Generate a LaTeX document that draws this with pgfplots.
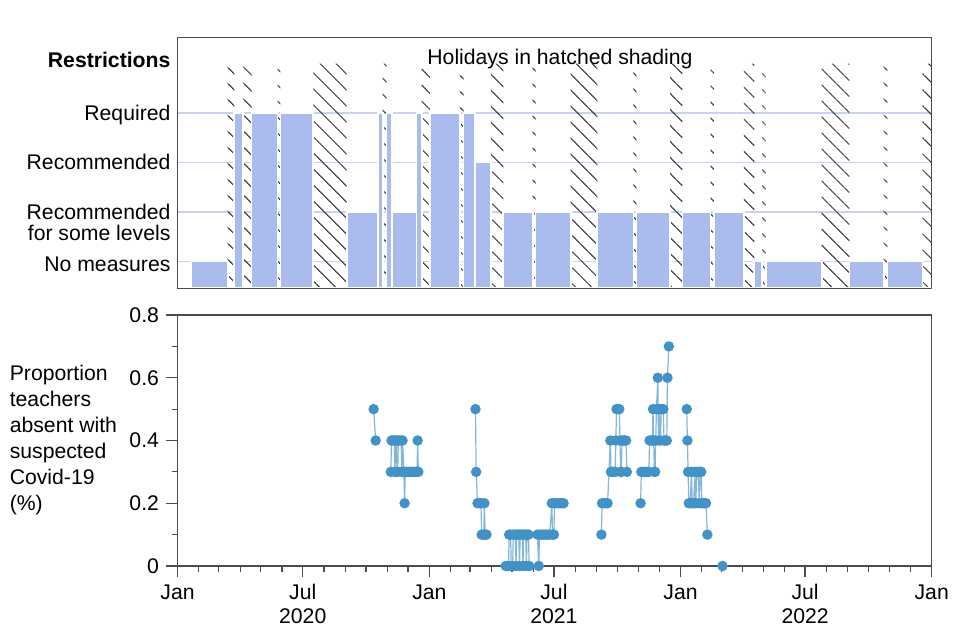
\documentclass[border=0pt]{standalone}
\usepackage{fontspec}
\setmainfont{Liberation Sans}
\usepackage{pgfplots}
\pgfplotsset{compat=1.18}
\usetikzlibrary{patterns.meta}
\definecolor{barblue}{RGB}{170,187,238}
\definecolor{gridblue}{RGB}{200,210,246}
\definecolor{dotblue}{RGB}{66,146,198}
\definecolor{lineblue}{RGB}{130,182,220}
\newcommand\myfont{\fontsize{10.6}{13}\selectfont}
\begin{document}
\begin{tikzpicture}[font=\myfont]
\useasboundingbox (0,0) rectangle (480pt,320pt);
% ---------------- top panel ----------------
\begin{axis}[
  at={(88.75pt,175.85pt)}, anchor=south west, scale only axis,
  width=377.1pt, height=125.5pt,
  xmin=0, xmax=1096, ymin=0.46, ymax=5.53,
  xtick=\empty,
  ytick={1,2,3,4},
  yticklabels={\raisebox{-1.5pt}{No measures},{\begin{tabular}[t]{@{}r@{}}Recommended\\[-2.6pt]for some levels\hspace{5.5pt}\end{tabular}},Recommended,Required},
  extra y ticks={5.06}, extra y tick labels={\textbf{Restrictions}\hspace{2pt}},
  extra y tick style={grid=none},
  ymajorgrids, grid style={gridblue, line width=0.7pt},
  tick style={draw=none},
  y tick label style={anchor=mid east, yshift=-1pt, font=\myfont},
  axis line style={black!70, line width=0.6pt},
]
% holidays (hatched)
\addplot[ybar interval, draw=none, pattern={Lines[angle=-45,distance=5.66pt,line width=0.5pt]}, pattern color=black!80] coordinates {
(20,0)(73,5)(82.5,0)(95.6,5)(107.8,0)(145.6,5)(149.4,0)(197.3,5)(245.9,0)(298.2,5)(304,0)
(354.9,5)(366.9,0)(410.5,5)(415.9,0)(455.6,5)(473.4,0)(516.2,5)(520.5,0)(571.4,5)(610,0)
(662.4,5)(667.3,0)(715.7,5)(733.8,0)(774.8,5)(779.6,0)(823.2,5)(838.2,0)(849.8,5)(854.8,0)
(936.2,5)(976.3,0)(1026.3,5)(1031.5,0)(1082.9,5)(1096,0)
};
% restriction levels
\addplot[ybar interval, fill=barblue, draw=white, line width=0.8pt] coordinates {
(20,1)(73,0)(82.5,4)(95.6,0)(107.8,4)(145.6,0)(149.4,4)(197.3,0)(245.9,2)(291.8,4)(298.2,0)
(304,4)(311.3,2)(347.6,4)(354.9,0)(366.9,4)(410.5,0)(415.9,4)(432.3,3)(455.6,0)(473.4,2)
(516.2,0)(520.5,2)(571.4,0)(610,2)(662.4,0)(667.3,2)(715.7,0)(733.8,2)(774.8,0)(779.6,2)
(823.2,0)(838.2,1)(849.8,0)(854.8,1)(936.2,0)(976.3,1)(1026.3,0)(1031.5,1)(1082.9,0)(1096,0)
};
\draw[black!70, line width=0.6pt] (rel axis cs:0,0) rectangle (rel axis cs:1,1);
\end{axis}
\node at (280pt,290.5pt) {Holidays in hatched shading};
% ---------------- bottom panel ----------------
\begin{axis}[
  at={(88.75pt,37pt)}, anchor=south west, scale only axis,
  width=377.1pt, height=125.5pt,
  xmin=0, xmax=1096, ymin=0, ymax=0.8,
  xtick={0,182,366,547,731,912,1096},
  xticklabels={Jan,{Jul\\2020},Jan,{Jul\\2021},Jan,{Jul\\2022},Jan},
  x tick label style={align=center, font=\fontsize{10.6}{12}\selectfont},
  y tick label style={font=\myfont},
  minor xtick={31,60,91,121,152,213,244,274,305,335,397,425,456,486,517,578,609,639,670,700,762,790,821,851,882,943,974,1004,1035,1065},
  ytick={0,0.2,0.4,0.6,0.8}, yticklabels={0,0.2,0.4,0.6,0.8},
  minor ytick={0.1,0.3,0.5,0.7},
  tick align=outside, xtick pos=left, ytick pos=left,
  major tick length=5.75pt, minor tick length=3pt,
  tick style={black!70, line width=0.6pt},
  axis line style={black!70, line width=0.6pt},
  clip=false, unbounded coords=jump,
]
\addplot[color=lineblue, line width=0.6pt, mark=*, mark size=2.3pt, mark options={fill=dotblue, draw=dotblue}] coordinates {
(285,0.5)(288,0.4)(300,nan)
(310,0.3)(311,0.4)(312,0.4)(315,0.4)(316,0.3)(317,0.4)(318,0.4)(319,0.3)(320,0.3)(321,0.4)(322,0.4)(325,0.4)(326,0.3)(327,0.4)(329,0.3)(330,0.2)(331,0.3)(333,0.3)(336,0.3)(339,0.3)(341,0.3)(343,0.3)(346,0.3)(348,0.3)(349,0.4)(350,0.3)(360,nan)
(433,0.5)(434,0.3)(436,0.2)(438,0.2)(440,0.2)(441,0.2)(442,0.1)(445,0.1)(446,0.2)(447,0.1)(449,0.1)(460,nan)
(477,0)(479,0)(481,0)(482,0.1)(484,0.1)(485,0)(487,0)(488,0.1)(491,0.1)(492,0)(493,0.1)(496,0.1)(497,0)(498,0.1)(501,0.1)(502,0)(503,0.1)(506,0.1)(507,0)(508,0.1)(510,0.1)(511,0)(518,nan)
(523,0.1)(525,0)(526,0.1)(529,0.1)(532,0.1)(535,0.1)(538,0.1)(541,0.1)(544,0.2)(545,0.1)(547,0.1)(548,0.2)(551,0.2)(554,0.2)(557,0.2)(560,0.2)(561,0.2)(590,nan)
(616,0.1)(617,0.2)(620,0.2)(623,0.2)(625,0.2)(629,0.4)(630,0.3)(632,0.3)(634,0.3)(636,0.3)(637,0.4)(638,0.5)(640,0.5)(642,0.5)(643,0.4)(644,0.3)(645,0.3)(646,0.4)(648,0.4)(650,0.4)(652,0.4)(653,0.3)(665,nan)
(673,0.2)(674,0.3)(677,0.3)(680,0.3)(683,0.3)(685,0.3)(686,0.4)(688,0.4)(690,0.4)(691,0.5)(692,0.4)(693,0.3)(694,0.3)(695,0.4)(696,0.5)(698,0.6)(699,0.4)(700,0.5)(702,0.4)(703,0.5)(705,0.5)(706,0.5)(707,0.4)(709,0.4)(711,0.4)(712,0.6)(714,0.7)(725,nan)
(740,0.5)(741,0.4)(742,0.3)(743,0.2)(745,0.2)(747,0.3)(748,0.2)(750,0.2)(752,0.3)(753,0.2)(755,0.3)(757,0.3)(758,0.2)(760,0.3)(761,0.3)(762,0.2)(764,0.2)(766,0.2)(768,0.2)(770,0.1)(780,nan)
(792,0)
};
\end{axis}
\node[anchor=west, align=left, inner sep=0pt] at (4.7pt,100pt) {Proportion\\teachers\\absent with\\suspected\\Covid-19\\(\%)};
\end{tikzpicture}
\end{document}
